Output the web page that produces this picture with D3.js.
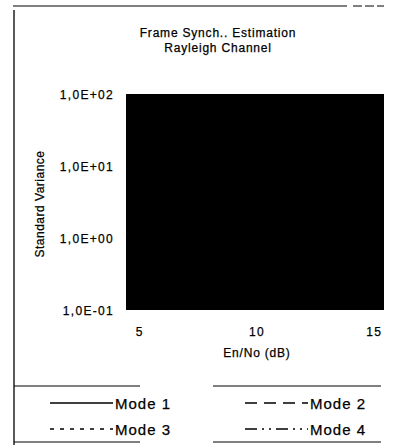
<!DOCTYPE html>
<html>
<head>
<meta charset="utf-8">
<script src="https://cdn.jsdelivr.net/npm/d3@7"></script>
<style>
  body { margin: 0; background: #fff; }
  svg text { font-family: "Liberation Sans", Arial, sans-serif; fill: #000; stroke: #000; stroke-width: 0.25px; }
</style>
</head>
<body>
<script>
// categories on the x axis (Eb/No in dB), labels only every 5th
const snr = [5, 6, 7, 8, 9, 10, 11, 12, 13, 14, 15];
const xTickLabels = [5, 10, 15];
const yTicks = [0.1, 1, 10, 100];

// series values (hidden under the dark plot fill in the scan, so estimated)
const mode1 = [40, 28, 19, 13, 9, 6.2, 4.3, 3.0, 2.1, 1.5, 1.1];
const mode2 = [55, 40, 29, 21, 15, 11, 8, 5.8, 4.2, 3.1, 2.3];
const mode3 = [30, 20, 13, 8.5, 5.6, 3.7, 2.5, 1.7, 1.2, 0.85, 0.6];
const mode4 = [70, 52, 39, 29, 22, 16, 12, 9, 6.8, 5.1, 3.9];
const modeNames = ["Mode 1", "Mode 2", "Mode 3", "Mode 4"];

const width = 394, height = 445;
const plot = { left: 126, right: 384, top: 94, bottom: 310 };

const svg = d3.select("body").append("svg")
  .attr("width", width)
  .attr("height", height);

// scanned page frame
const frame = svg.append("g").attr("stroke", "#000").attr("fill", "none");
frame.append("line").attr("x1", 14).attr("x2", 14).attr("y1", 10).attr("y2", 445).attr("stroke-width", 1.3);
frame.append("line").attr("x1", 13).attr("x2", 347).attr("y1", 6).attr("y2", 6).attr("stroke-width", 1);
frame.append("line").attr("x1", 353).attr("x2", 384).attr("y1", 6).attr("y2", 6)
  .attr("stroke-width", 1).attr("stroke-dasharray", "9,3");
[386, 442].forEach(y => {
  frame.append("line").attr("x1", 14).attr("x2", 140).attr("y1", y).attr("y2", y).attr("stroke-width", 1);
  frame.append("line").attr("x1", 213).attr("x2", 381).attr("y1", y).attr("y2", y).attr("stroke-width", 1);
});

// title
svg.append("text").attr("x", 218).attr("y", 37).attr("text-anchor", "middle")
  .style("font-size", "12px").style("letter-spacing", "0.8px")
  .text("Frame Synch.. Estimation");
svg.append("text").attr("x", 218).attr("y", 52).attr("text-anchor", "middle")
  .style("font-size", "12px").style("letter-spacing", "0.8px")
  .text("Rayleigh Channel");

// scales
const x = d3.scaleBand().domain(snr).range([plot.left, plot.right]);
const y = d3.scaleLog().domain([0.1, 100]).range([plot.bottom, plot.top]);

// plot area (prints solid black in the scan)
svg.append("rect")
  .attr("x", plot.left).attr("y", plot.top)
  .attr("width", plot.right - plot.left).attr("height", plot.bottom - plot.top)
  .attr("fill", "#000");

// series
const dashes = ["none", "12,7", "4,6", "12,5,2,5,2,5"];
const series = [mode1, mode2, mode3, mode4];
const line = d3.line()
  .x((d, i) => x(snr[i]) + x.bandwidth() / 2)
  .y(d => y(d));
svg.append("g").selectAll("path")
  .data(series)
  .join("path")
  .attr("d", d => line(d))
  .attr("fill", "none")
  .attr("stroke", "#000")
  .attr("stroke-width", 1.2)
  .attr("stroke-dasharray", (d, i) => dashes[i]);

// y axis labels
const yAxis = svg.append("g")
  .attr("transform", `translate(${plot.left - 12},0)`)
  .call(d3.axisLeft(y).tickValues(yTicks).tickSize(0)
    .tickFormat(d => d3.format(".1e")(d).replace(".", ",").replace("e", "E")
      .replace(/E([+-])(\d)$/, "E$10$2")));
yAxis.select(".domain").remove();
yAxis.selectAll("text").attr("x", 0).attr("dy", "0.35em")
  .style("font-size", "12px").style("letter-spacing", "1.3px")
  .style("font-family", "'Liberation Sans', Arial, sans-serif");

// x axis labels
const xAxis = svg.append("g")
  .attr("transform", `translate(0,${plot.bottom})`)
  .call(d3.axisBottom(x).tickValues(xTickLabels).tickSize(0));
xAxis.select(".domain").remove();
xAxis.selectAll("text").attr("y", 17).attr("dy", "0.71em")
  .attr("transform", "translate(2,0)")
  .style("font-size", "12px").style("letter-spacing", "1.3px")
  .style("font-family", "'Liberation Sans', Arial, sans-serif");

// axis titles
svg.append("text").attr("x", 257).attr("y", 357).attr("text-anchor", "middle")
  .style("font-size", "12px").style("letter-spacing", "0.8px")
  .text("En/No (dB)");
svg.append("text")
  .attr("transform", `translate(44,${(plot.top + plot.bottom) / 2 + 2}) rotate(-90)`)
  .attr("text-anchor", "middle")
  .style("font-size", "12px").style("letter-spacing", "0.5px")
  .text("Standard Variance");

// legend
const legendPos = [[50, 403], [245, 403], [50, 429], [245, 429]];
const legend = svg.append("g").selectAll("g")
  .data(modeNames)
  .join("g")
  .attr("transform", (d, i) => `translate(${legendPos[i][0]},${legendPos[i][1]})`);
legend.append("line")
  .attr("x1", 0).attr("x2", 63).attr("y1", 0).attr("y2", 0)
  .attr("stroke", "#000").attr("stroke-width", 1.5)
  .attr("stroke-dasharray", (d, i) => dashes[i]);
legend.append("text")
  .attr("x", 65).attr("y", 5.5)
  .style("font-size", "15px").style("letter-spacing", "1px")
  .text(d => d);
</script>
</body>
</html>
